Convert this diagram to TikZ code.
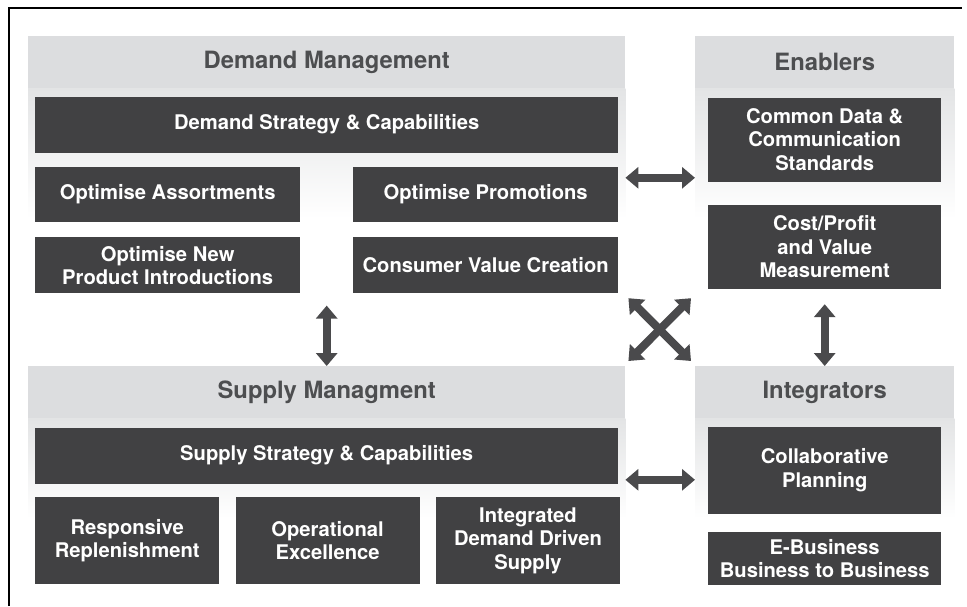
\documentclass[tikz,border=0pt]{standalone}
\usepackage{fontspec}
\setmainfont{TeX Gyre Heros}
\usetikzlibrary{arrows.meta,positioning}
\definecolor{barGrey}{HTML}{DCDDDF}
\definecolor{bodyGrey}{HTML}{E3E4E5}
\definecolor{boxDark}{HTML}{414143}
\definecolor{headInk}{HTML}{4D4E50}
\definecolor{arrowInk}{HTML}{4A4A4C}

\begin{document}
\begin{tikzpicture}[x=1pt,y=-1pt,
  headbar/.style={fill=barGrey,text=headInk,font=\fontsize{23.8}{28}\selectfont\bfseries,inner sep=0pt,anchor=north west},
  darkbox/.style={fill=boxDark,text=white,font=\fontsize{20.2}{23.5}\selectfont\bfseries,align=center,inner sep=0pt},
  dblarrow/.style={draw=arrowInk,line width=8pt,{Triangle[width=21pt,length=13pt]}-{Triangle[width=21pt,length=13pt]}}]
  \useasboundingbox (0,0) rectangle (967,606);
  \draw[line width=2pt] (9,606) |- (962,8);

  % demand management
  \node[headbar,minimum width=597pt,minimum height=52pt] (dm) at (28,36) {Demand Management};
  \shade[top color=bodyGrey,bottom color=white] (dm.south west) rectangle ([yshift=-130pt]dm.south east);
  \node[darkbox,minimum width=583pt,minimum height=56pt,below=8pt of dm] (dstrat) {Demand Strategy \& Capabilities};
  \node[darkbox,minimum width=265pt,minimum height=55pt,below right=14pt and 0pt of dstrat.south west] (assort) {Optimise Assortments};
  \node[darkbox,minimum width=265pt,minimum height=55pt,below left=14pt and 0pt of dstrat.south east] (promo) {Optimise Promotions};
  \node[darkbox,minimum width=265pt,minimum height=56pt,below=15pt of assort] (newprod) {Optimise New\\Product Introductions};
  \node[darkbox,minimum width=265pt,minimum height=56pt,below=15pt of promo] (consval) {Consumer Value Creation};

  % enablers
  \node[headbar,minimum width=259pt,minimum height=52pt] (en) at (695,36) {Enablers};
  \shade[top color=bodyGrey,bottom color=white] (en.south west) rectangle ([yshift=-130pt]en.south east);
  \node[darkbox,minimum width=233pt,minimum height=84pt,below=9pt of en] (stds) {Common Data \&\\Communication\\Standards};
  \node[darkbox,minimum width=233pt,minimum height=84pt,below=23pt of stds] (cost) {Cost/Profit\\and Value\\Measurement};

  % supply management
  \node[headbar,minimum width=597pt,minimum height=52pt] (sm) at (28,366) {Supply Managment};
  \shade[top color=bodyGrey,bottom color=white] (sm.south west) rectangle ([yshift=-100pt]sm.south east);
  \node[darkbox,minimum width=583pt,minimum height=56pt,below=9pt of sm] (sstrat) {Supply Strategy \& Capabilities};
  \node[darkbox,minimum width=184pt,minimum height=87pt,below right=13pt and 0pt of sstrat.south west] (replen) {Responsive\\Replenishment};
  \node[darkbox,minimum width=184pt,minimum height=87pt,right=16pt of replen] (opex) {Operational\\Excellence};
  \node[darkbox,minimum width=184pt,minimum height=87pt,right=16pt of opex] (idds) {Integrated\\Demand Driven\\Supply};

  % integrators
  \node[headbar,minimum width=259pt,minimum height=52pt] (ig) at (695,366) {Integrators};
  \shade[top color=bodyGrey,bottom color=white] (ig.south west) rectangle ([yshift=-100pt]ig.south east);
  \node[darkbox,minimum width=233pt,minimum height=87pt,below=8pt of ig] (collab) {Collaborative\\Planning};
  \node[darkbox,minimum width=233pt,minimum height=53pt,below=18pt of collab] (ebiz) {E-Business\\Business to Business};

  % links
  \draw[dblarrow] ([yshift=4pt]dm.east |- stds.south) -- ([yshift=4pt]en.west |- stds.south);
  \draw[dblarrow] ([yshift=4pt]sm.east |- sstrat.south) -- ([yshift=4pt]ig.west |- sstrat.south);
  \draw[dblarrow] ([yshift=-12pt]dm.south |- newprod.south) -- (sm.north);
  \draw[dblarrow] ([yshift=-15pt]cost.south) -- (ig.north);
  \draw[dblarrow] ([xshift=3pt,yshift=-9pt]dm.east |- cost.south) -- ([xshift=-4pt,yshift=5pt]en.west |- ig.north);
  \draw[dblarrow] ([xshift=-4pt,yshift=-9pt]en.west |- cost.south) -- ([xshift=3pt,yshift=5pt]dm.east |- ig.north);
\end{tikzpicture}
\end{document}
